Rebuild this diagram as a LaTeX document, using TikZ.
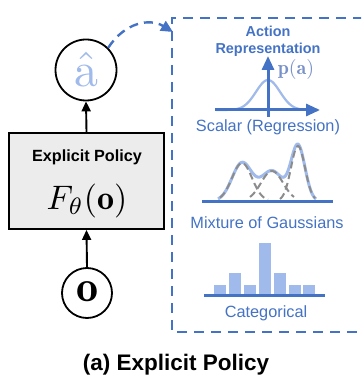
\documentclass[tikz,border=0pt]{standalone}
\usepackage{fontspec}
\usepackage{graphicx}
\newfontfamily\arial{Liberation Sans}
\usetikzlibrary{arrows.meta}
\definecolor{rblue}{RGB}{68,114,196}
\definecolor{lblue}{RGB}{160,186,235}
\definecolor{pblue}{RGB}{120,145,200}
\definecolor{boxgray}{RGB}{236,236,236}
\tikzset{
  circ/.style={draw=black,line width=1.8pt,circle,inner sep=0pt},
  blk/.style={draw=black,line width=1.9pt,-{Triangle[length=10pt,width=9pt]}},
  baxis/.style={draw=rblue,line width=3pt,-{Triangle[length=14pt,width=12pt]}},
  bline/.style={draw=rblue,line width=3pt},
  lab/.style={font=\arial\fontsize{16.3}{18}\selectfont,text=rblue,inner sep=0pt},
  bar/.style={fill=lblue,draw=none},
  comp/.style={draw=gray!90,line width=2pt,dash pattern=on 7pt off 4pt},
}
\begin{document}
\begin{tikzpicture}[x=1pt,y=-1pt]
\useasboundingbox (0,0) rectangle (361,379);
\clip (0,0) rectangle (361,379);
% left column
\node[circ,minimum size=61pt,text=lblue] (ahat) at (86,70) {\raisebox{2pt}{\scalebox{4.8}{$\hat{\mathrm{a}}$}}};
\node[draw=black,line width=1.8pt,fill=boxgray,minimum width=155pt,minimum height=96pt,inner sep=0pt] (pol) at (86.5,181) {};
\node[font=\arial\bfseries\fontsize{16.2}{18}\selectfont,inner sep=0pt] (poltitle) at (87,157) {Explicit Policy};
\node[inner sep=0pt] (polf) at (87,201) {\scalebox{3.4}{$F_\theta(\mathbf{o})$}};
\node[circ,minimum size=50pt] (obs) at (87,293) {\raisebox{2pt}{\scalebox{4.4}{$\mathbf{o}$}}};
\draw[blk] (pol.north) -- (ahat.south);
\draw[blk] (obs.north) -- (pol.south);
% dashed box
\coordinate (dtr) at (380,18);
\coordinate (dtl) at (172,18);
\coordinate (dbl) at (172,332);
\coordinate (dbr) at (380,332);
\draw[rblue,line width=2.6pt,dash pattern=on 10pt off 7pt] (dtr) -- (dtl) -- (dbl) -- (dbr);
% dashed arc
\coordinate (arcend) at (173,32);
\draw[rblue,line width=2.4pt,dash pattern=on 9pt off 6pt,-{Triangle[length=12pt,width=11pt]}]
  (ahat.45) .. controls (125,22) and (150,18) .. (arcend);
% title
\node[font=\arial\bfseries\fontsize{14.4}{17}\selectfont,text=rblue,align=center,inner sep=0pt] (title) at (268,41) {Action\\Representation};
% scalar
\draw[lblue,line width=2.2pt] plot[domain=216:318,samples=80,smooth] (\x,{110-30*exp(-((\x-268)^2)/288)});
\coordinate (hx0) at (215,110);
\coordinate (hx1) at (320,110);
\coordinate (vy0) at (268,117);
\coordinate (vy1) at (268,56);
\draw[baxis] (hx0) -- (hx1);
\draw[baxis] (vy0) -- (vy1);
\node[text=pblue,inner sep=0pt] (pa) at (296,70) {\scalebox{2.0}{$\mathbf{p}(\mathbf{a})$}};
\node[lab] (lscalar) at (268,127) {Scalar (Regression)};
% mixture
\draw[lblue,line width=3pt] plot[domain=218:316,samples=120,smooth]
  (\x,{201-38*exp(-((\x-242)^2)/200)-30*exp(-((\x-272)^2)/242)-55*exp(-((\x-298)^2)/98)});
\draw[comp] plot[domain=220:268,samples=40,smooth] (\x,{201-38*exp(-((\x-242)^2)/200)});
\draw[comp] plot[domain=250:294,samples=40,smooth] (\x,{201-30*exp(-((\x-272)^2)/242)});
\draw[comp] plot[domain=280:315,samples=40,smooth] (\x,{201-55*exp(-((\x-298)^2)/98)});
\coordinate (m0) at (202,201);
\coordinate (m1) at (333,201);
\draw[bline] (m0) -- (m1);
\node[lab] (lmix) at (267,223) {Mixture of Gaussians};
% categorical
\foreach \cx/\h in {220/10,235/22,250/10,265/52,280/22,295/10,309/10}{
  \fill[bar] (\cx-6.2,295) rectangle (\cx+6.2,295-\h);
}
\coordinate (c0) at (204,295);
\coordinate (c1) at (325,295);
\draw[bline] (c0) -- (c1);
\node[lab] (lcat) at (266,313) {Categorical};
% caption
\node[font=\arial\bfseries\fontsize{22.5}{24}\selectfont,inner sep=0pt] (cap) at (176,365) {(a) Explicit Policy};
\end{tikzpicture}
\end{document}
